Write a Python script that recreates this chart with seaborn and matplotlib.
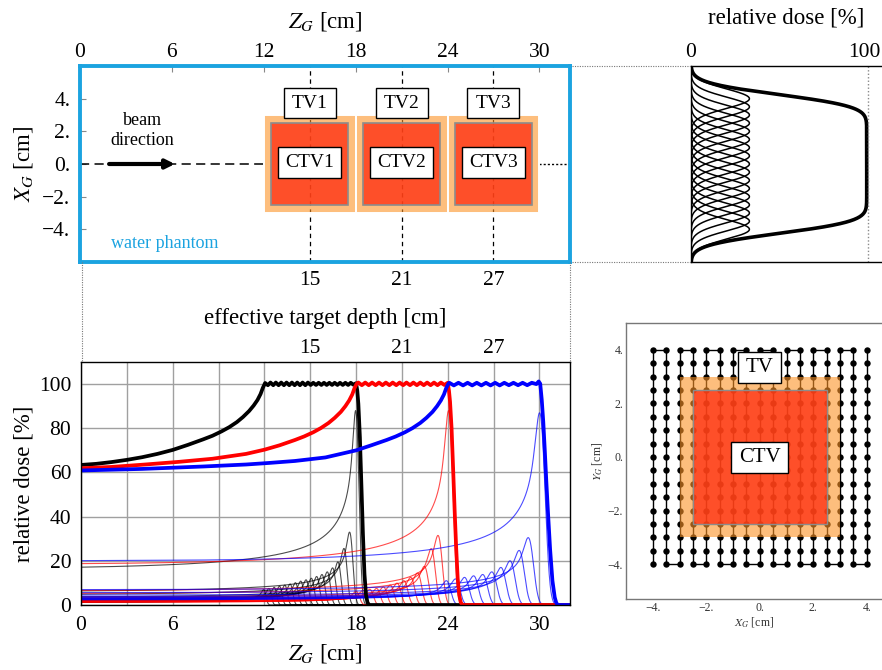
import numpy as np
import pandas as pd
import matplotlib
matplotlib.use("Agg")
import matplotlib.pyplot as plt
from matplotlib.patches import Rectangle
from matplotlib.lines import Line2D
from matplotlib.transforms import ScaledTranslation
import seaborn as sns

# ---------------------------------------------------------------- data
# target volumes along the beam (cm)
tv_names = ["TV1", "TV2", "TV3"]
ctv_names = ["CTV1", "CTV2", "CTV3"]
tv_z_start = [12.0, 18.0, 24.0]
tv_z_end = [18.0, 24.0, 30.0]
ctv_z_start = [12.5, 18.5, 24.5]
ctv_z_end = [17.5, 23.5, 29.5]
target_depths = [15, 21, 27]
tv_half_width = 3.0
ctv_half_width = 2.5

# spread-out Bragg peaks (depth in cm, relative dose in %)
sobp_black_z = [0.0, 1.0, 2.0, 3.0, 4.0, 5.0, 6.0, 7.0, 8.0, 8.6, 9.2, 9.7, 10.2, 10.6,
                11.0, 11.3, 11.55, 11.75, 11.9, 12.05,
                12.23, 12.4, 12.58, 12.75, 12.93, 13.1, 13.28, 13.45, 13.63, 13.8, 13.98,
                14.15, 14.33, 14.5, 14.68, 14.85, 15.03, 15.2, 15.38, 15.55, 15.73, 15.9,
                16.08, 16.25, 16.43, 16.6, 16.78, 16.95, 17.13, 17.3, 17.48, 17.65, 17.83, 18.0,
                18.08, 18.15, 18.25, 18.35, 18.45, 18.55, 18.65, 18.75, 18.85, 32.2]
sobp_black_d = [63.4, 63.9, 64.7, 65.7, 66.9, 68.4, 70.2, 72.5, 75.0, 76.6, 78.6, 80.5, 82.8, 85.1,
                87.8, 90.3, 92.8, 95.5, 98.3, 100.5,
                99.5, 100.7, 99.5, 100.7, 99.5, 100.7, 99.5, 100.7, 99.5, 100.7, 99.5,
                100.7, 99.5, 100.7, 99.5, 100.7, 99.6, 100.6, 99.6, 100.6, 99.6, 100.6,
                99.6, 100.6, 99.6, 100.6, 99.6, 100.6, 99.6, 100.6, 99.6, 100.6, 99.7, 100.4,
                97.0, 91.0, 76.0, 54.0, 32.0, 14.0, 4.5, 1.0, 0.0, 0.0]

sobp_red_z = [0.0, 2.0, 4.2, 6.4, 8.6, 10.8, 12.0, 13.0, 14.0, 14.6, 15.2, 15.7, 16.2, 16.6,
              17.0, 17.3, 17.55, 17.75, 17.9, 18.05,
              18.15, 18.38, 18.6, 18.83, 19.05, 19.28, 19.5, 19.73, 19.95, 20.18, 20.4, 20.63,
              20.85, 21.08, 21.3, 21.53, 21.75, 21.98, 22.2, 22.43, 22.65, 22.88, 23.1, 23.33,
              23.55, 23.78, 24.0,
              24.08, 24.15, 24.25, 24.35, 24.45, 24.55, 24.65, 24.75, 24.85, 24.95, 32.2]
sobp_red_d = [61.9, 62.5, 63.6, 64.8, 66.2, 68.4, 70.3, 72.3, 74.7, 76.3, 78.2, 80.1, 82.4, 84.7,
              87.4, 90.0, 92.6, 95.3, 98.2, 100.3,
              100.7, 99.5, 100.7, 99.5, 100.7, 99.5, 100.7, 99.5, 100.7, 99.5, 100.7, 99.5,
              100.7, 99.5, 100.7, 99.5, 100.7, 99.5, 100.7, 99.5, 100.7, 99.5, 100.7, 99.5,
              100.7, 99.6, 100.6,
              97.0, 92.0, 80.0, 62.0, 43.0, 26.0, 12.0, 4.5, 1.2, 0.0, 0.0]

sobp_blue_z = [0.0, 4.0, 8.0, 10.8, 12.3, 14.0, 16.0, 18.0, 19.0, 20.0, 20.6, 21.2, 21.7, 22.2,
               22.6, 23.0, 23.3, 23.55, 23.75, 23.9, 24.05,
               24.1, 24.4, 24.7, 25.0, 25.3, 25.6, 25.9, 26.2, 26.5, 26.8, 27.1, 27.4, 27.7,
               28.0, 28.3, 28.6, 28.9, 29.2, 29.5, 29.8, 29.95, 30.05,
               30.15, 30.25, 30.35, 30.45, 30.55, 30.7, 30.85, 31.0, 31.1, 31.2, 32.2]
sobp_blue_d = [60.9, 61.6, 62.7, 63.6, 64.3, 65.2, 66.8, 70.0, 72.3, 74.7, 76.3, 78.2, 80.1, 82.4,
               84.7, 87.4, 90.0, 92.6, 95.3, 98.2, 100.3,
               100.6, 99.4, 100.6, 99.4, 100.6, 99.4, 100.6, 99.4, 100.6, 99.4, 100.6, 99.4, 100.6,
               99.5, 100.6, 99.5, 100.6, 99.5, 100.6, 100.0, 101.2, 100.2,
               93.0, 83.0, 70.0, 56.0, 43.0, 25.0, 11.0, 3.5, 1.0, 0.0, 0.0]

# individual energy layers: range (cm) and peak dose (%)
layer_black_range = [12.05, 12.4, 12.75, 13.1, 13.45, 13.8, 14.15, 14.5, 14.85, 15.2, 15.55,
                     15.9, 16.25, 16.6, 16.95, 17.35, 17.72, 18.12]
layer_black_peak = [7.0, 7.5, 8.0, 8.5, 9.0, 9.5, 10.1, 10.8, 11.4, 12.1, 12.9,
                    13.8, 15.0, 16.8, 19.5, 25.6, 33.0, 88.0]
layer_red_range = [18.15, 18.6, 19.05, 19.5, 19.95, 20.4, 20.85, 21.3, 21.75, 22.2, 22.65,
                   23.1, 23.55, 24.25]
layer_red_peak = [6.2, 6.7, 7.1, 7.5, 8.2, 9.0, 9.9, 11.0, 12.5, 14.5, 17.5, 25.5, 31.5, 88.0]
layer_blue_range = [24.1, 24.7, 25.3, 25.9, 26.5, 27.1, 27.7, 28.3, 28.9, 29.5, 30.25]
layer_blue_peak = [11.0, 11.8, 12.5, 13.2, 13.8, 15.0, 17.0, 20.0, 24.7, 30.5, 87.0]

# pencil-beam spot grid (cm) and lateral spot profile
spot_cols = [-4.0, -3.5, -3.0, -2.5, -2.0, -1.5, -1.0, -0.5, 0.0, 0.5, 1.0, 1.5, 2.0, 2.5, 3.0, 3.5, 4.0]
spot_rows = [-4.0, -3.5, -3.0, -2.5, -2.0, -1.5, -1.0, -0.5, 0.0, 0.5, 1.0, 1.5, 2.0, 2.5, 3.0, 3.5, 4.0]
spot_peak_dose = 33.0
spot_sigma = 0.6

# tick labels
depth_ticks = [0, 6, 12, 18, 24, 30]
lateral_ticks = [-4, -2, 0, 2, 4]
lateral_ticklabels = ["\u22124.", "\u22122.", "0.", "2.", "4."]
dose_ticks = [0, 20, 40, 60, 80, 100]

# ---------------------------------------------------------------- style
sns.set_theme(style="white")
plt.rcParams.update({
    "font.family": ["Liberation Serif", "DejaVu Serif"],
    "mathtext.fontset": "stix",
    "text.color": "black",
    "axes.labelcolor": "black",
    "xtick.color": "black",
    "ytick.color": "black",
})

FRAME_BLUE = "#1BA3E0"
TV_FACE = (0.988, 0.576, 0.149, 0.6)
CTV_FACE = (1.0, 0.2, 0.08, 0.8)
BEAM_COLOURS = {"black": "#000000", "red": "#FF0000", "blue": "#0000FF"}

W, H = 882, 670
fig = plt.figure(figsize=(W / 100, H / 100), dpi=100)


def px_rect(left, top, right, bottom):
    return [left / W, 1 - bottom / H, (right - left) / W, (bottom - top) / H]


TICK_FS = 15.5
LABEL_FS = 16.5

# ---------------------------------------------------------------- geometry panel
ax_t = fig.add_axes(px_rect(80, 66, 570, 262))
ax_t.set_xlim(0, 32)
ax_t.set_ylim(-6, 6)
for s in ax_t.spines.values():
    s.set_color(FRAME_BLUE)
    s.set_linewidth(2.8)
ax_t.xaxis.tick_top()
ax_t.xaxis.set_label_position("top")
ax_t.set_xticks(depth_ticks)
ax_t.set_xticklabels([str(t) for t in depth_ticks])
ax_t.set_yticks(lateral_ticks)
ax_t.set_yticklabels(lateral_ticklabels)
ax_t.tick_params(axis="x", top=True, bottom=False, direction="in", length=4, width=0.8,
                 color="#888888", labelsize=TICK_FS, pad=3)
ax_t.tick_params(axis="y", left=True, direction="in", length=4, width=0.8,
                 color="#888888", labelsize=TICK_FS, pad=7)
ax_t.set_xlabel("$Z_G$ [cm]", fontsize=LABEL_FS, labelpad=11)
ax_t.set_ylabel("$X_G$ [cm]", fontsize=LABEL_FS, labelpad=5)

sec_t = ax_t.secondary_xaxis("bottom")
sec_t.set_xticks(target_depths)
sec_t.set_xticklabels([str(t) for t in target_depths])
sec_t.tick_params(length=0, labelsize=TICK_FS, pad=6.5)
sec_t.spines["bottom"].set_visible(False)
sec_t.set_xlabel("effective target depth [cm]", fontsize=LABEL_FS, labelpad=13)

for zc in target_depths:
    ax_t.axvline(zc, color="black", lw=0.9, ls=(0, (3.5, 3)), zorder=1)
ax_t.hlines(0, 0, tv_z_start[0], color="black", lw=1.1, ls=(0, (6, 3.5)), zorder=1)
ax_t.hlines(0, tv_z_end[-1], 32, color="black", lw=1.0, ls=(0, (1.5, 1.5)), zorder=1)

for zs, ze in zip(tv_z_start, tv_z_end):
    ax_t.add_patch(Rectangle((zs, -tv_half_width), ze - zs, 2 * tv_half_width,
                             facecolor=TV_FACE, edgecolor="white", lw=1.4, zorder=2))
for zs, ze in zip(ctv_z_start, ctv_z_end):
    ax_t.add_patch(Rectangle((zs, -ctv_half_width), ze - zs, 2 * ctv_half_width,
                             facecolor=CTV_FACE, edgecolor="#8c8c8c", lw=1.2, zorder=3))
for zc, tv, ctv in zip(target_depths, tv_names, ctv_names):
    ax_t.add_patch(Rectangle((zc - 1.7, 2.8), 3.4, 1.85, facecolor="white",
                             edgecolor="black", lw=1.0, zorder=4))
    ax_t.text(zc, 3.72, tv, ha="center", va="center", fontsize=14, zorder=5)
    ax_t.add_patch(Rectangle((zc - 2.05, -0.86), 4.1, 1.88, facecolor="white",
                             edgecolor="black", lw=1.0, zorder=4))
    ax_t.text(zc, 0.08, ctv, ha="center", va="center", fontsize=14, zorder=5)

ax_t.annotate("", xy=(6.2, 0), xytext=(1.9, 0), zorder=4,
              arrowprops=dict(arrowstyle="-|>", color="black", lw=3.0,
                              mutation_scale=13, shrinkA=0, shrinkB=0))
ax_t.text(4.06, 2.05, "beam\ndirection", ha="center", va="center", fontsize=13,
          linespacing=1.25)
ax_t.text(2.0, -4.87, "water phantom", ha="left", va="center", fontsize=13,
          color=FRAME_BLUE)

# ---------------------------------------------------------------- lateral profile
ax_p = fig.add_axes(px_rect(691, 66, 882, 262))
x_lat = np.linspace(-6.0, 6.0, 721)
prof_frames = []
total = np.zeros_like(x_lat)
for k, c in enumerate(spot_cols):
    d = spot_peak_dose * np.exp(-0.5 * ((x_lat - c) / spot_sigma) ** 2)
    total = total + d
    prof_frames.append(pd.DataFrame({"lateral": x_lat, "dose": d, "spot": k}))
prof = pd.concat(prof_frames, ignore_index=True)
sns.lineplot(data=prof, x="dose", y="lateral", units="spot", estimator=None, sort=False,
             color="black", lw=1.1, legend=False, ax=ax_p)
sns.lineplot(x=total, y=x_lat, estimator=None, sort=False, color="black", lw=2.6, ax=ax_p)
ax_p.axvline(100, color="#8a8a8a", lw=1.0, ls=(0, (1, 1.5)))
ax_p.set_xlim(0, 107.9)
ax_p.set_ylim(-6, 6)
ax_p.xaxis.tick_top()
ax_p.xaxis.set_label_position("top")
ax_p.set_xticks([0, 100])
ax_p.set_xticklabels(["0", "100"])
ax_p.set_yticks([])
ax_p.tick_params(axis="x", length=0, labelsize=TICK_FS, pad=3)
ax_p.set_xlabel("relative dose [%]", fontsize=LABEL_FS, labelpad=14)
ax_p.set_ylabel("")
# keep the right-hand tick label inside the canvas
last = ax_p.get_xticklabels()[-1]
last.set_transform(last.get_transform() + ScaledTranslation(-4 / 100, 0, fig.dpi_scale_trans))
for name, s in ax_p.spines.items():
    s.set_color("black")
    s.set_linewidth(1.0)
ax_p.spines["right"].set_visible(False)

# ---------------------------------------------------------------- depth dose
ax_b = fig.add_axes(px_rect(81, 362, 570, 605))

z_fine = np.arange(-1.0, 33.0, 0.005)
dz = 0.005


def pristine_peak(rng, peak):
    """Bragg curve of one energy layer, scaled to its peak dose."""
    def F(x):
        x = np.clip(x, 0.0, None)
        return x ** 0.565 / 0.565 + 0.0247 * x ** 1.565 / 1.565
    undiluted = (F(rng - z_fine + dz / 2) - F(rng - z_fine - dz / 2)) / dz
    sigma = 0.011 * rng ** 0.935
    n = int(np.ceil(5 * sigma / dz))
    kern = np.exp(-0.5 * (np.arange(-n, n + 1) * dz / sigma) ** 2)
    kern /= kern.sum()
    d = np.convolve(undiluted, kern, mode="same")
    return peak * d / d.max()


keep = (z_fine >= 0) & (z_fine <= 32.2)
layer_frames = []
for beam, ranges, peaks in [("black", layer_black_range, layer_black_peak),
                            ("red", layer_red_range, layer_red_peak),
                            ("blue", layer_blue_range, layer_blue_peak)]:
    for i, (r, p) in enumerate(zip(ranges, peaks)):
        d = pristine_peak(r, p)
        layer_frames.append(pd.DataFrame({"depth": z_fine[keep][::2], "dose": d[keep][::2],
                                          "beam": beam, "layer": f"{beam}{i}"}))
layers = pd.concat(layer_frames, ignore_index=True)

ax_b.set_xticks(np.arange(0, 33, 3), minor=True)
ax_b.grid(True, which="both", axis="x", color="#a0a0a0", lw=1.0)
ax_b.grid(True, which="major", axis="y", color="#a0a0a0", lw=1.0)
ax_b.set_axisbelow(True)

sns.lineplot(data=layers, x="depth", y="dose", hue="beam", units="layer", estimator=None,
             palette=BEAM_COLOURS, hue_order=["black", "red", "blue"], lw=0.8, alpha=0.7,
             legend=False, ax=ax_b)
for zz, dd, col in [(sobp_black_z, sobp_black_d, "black"),
                    (sobp_red_z, sobp_red_d, "red"),
                    (sobp_blue_z, sobp_blue_d, "blue")]:
    sns.lineplot(x=zz, y=dd, estimator=None, sort=False, color=BEAM_COLOURS[col], lw=2.7,
                 ax=ax_b)

ax_b.set_xlim(0, 32)
ax_b.set_ylim(0, 110)
ax_b.set_xticks(depth_ticks)
ax_b.set_xticklabels([str(t) for t in depth_ticks])
ax_b.set_yticks(dose_ticks)
ax_b.set_yticklabels([str(t) for t in dose_ticks])
ax_b.tick_params(axis="both", which="both", length=0, labelsize=TICK_FS)
ax_b.tick_params(axis="x", pad=8)
ax_b.tick_params(axis="y", pad=7)
ax_b.set_xlabel("$Z_G$ [cm]", fontsize=LABEL_FS, labelpad=5)
ax_b.set_ylabel("relative dose [%]", fontsize=LABEL_FS, labelpad=3)
for s in ax_b.spines.values():
    s.set_color("black")
    s.set_linewidth(1.0)

sec_b = ax_b.secondary_xaxis("top")
sec_b.set_xticks(target_depths)
sec_b.set_xticklabels([str(t) for t in target_depths])
sec_b.tick_params(length=0, labelsize=TICK_FS, pad=3)
sec_b.spines["top"].set_visible(False)

# ---------------------------------------------------------------- spot grid
ax_s = fig.add_axes(px_rect(626, 323, 882, 599))
path_x, path_y = [], []
for i, xc in enumerate(spot_cols):
    ys = spot_rows if i % 2 == 0 else spot_rows[::-1]
    path_x += [xc] * len(ys)
    path_y += list(ys)
sns.lineplot(x=path_x, y=path_y, estimator=None, sort=False, color="black", lw=1.0,
             marker="o", markersize=4.6, markeredgewidth=0, ax=ax_s, zorder=1)
ax_s.add_patch(Rectangle((-tv_half_width, -tv_half_width), 2 * tv_half_width, 2 * tv_half_width,
                         facecolor=TV_FACE, edgecolor="none", zorder=2))
ax_s.add_patch(Rectangle((-ctv_half_width, -ctv_half_width), 2 * ctv_half_width,
                         2 * ctv_half_width, facecolor=CTV_FACE, edgecolor="#8c8c8c",
                         lw=1.0, zorder=3))
ax_s.add_patch(Rectangle((-0.8, 2.77), 1.6, 1.13, facecolor="white", edgecolor="black",
                         lw=1.0, zorder=4))
ax_s.text(0, 3.33, "TV", ha="center", va="center", fontsize=15, zorder=5)
ax_s.add_patch(Rectangle((-1.06, -0.6), 2.12, 1.15, facecolor="white", edgecolor="black",
                         lw=1.0, zorder=4))
ax_s.text(0, -0.03, "CTV", ha="center", va="center", fontsize=15, zorder=5)
ax_s.set_xlim(-5.0, 4.57)
ax_s.set_ylim(-5.3, 5.0)
ax_s.set_xticks(lateral_ticks)
ax_s.set_xticklabels(lateral_ticklabels)
ax_s.set_yticks(lateral_ticks)
ax_s.set_yticklabels(lateral_ticklabels)
ax_s.tick_params(axis="both", direction="in", length=3, width=0.6, color="#888888",
                 labelsize=8.5, labelcolor="#333333", pad=2)
ax_s.set_xlabel("$X_G$ [cm]", fontsize=8.5, color="#333333", labelpad=1)
ax_s.set_ylabel("$Y_G$ [cm]", fontsize=8.5, color="#333333", labelpad=3)
for s in ax_s.spines.values():
    s.set_color("#777777")
    s.set_linewidth(1.0)
ax_s.spines["right"].set_visible(False)

# ---------------------------------------------------------------- dotted frame links
dot = dict(color="#777777", lw=0.8, ls=(0, (1, 1.2)), transform=fig.transFigure)
for yy in (66, 262):
    fig.add_artist(Line2D([572 / W, 691 / W], [1 - yy / H, 1 - yy / H], **dot))
for xx in (81.5, 569.5):
    fig.add_artist(Line2D([xx / W, xx / W], [1 - 262 / H, 1 - 362 / H], **dot))

fig.savefig("out.png", dpi=100)
